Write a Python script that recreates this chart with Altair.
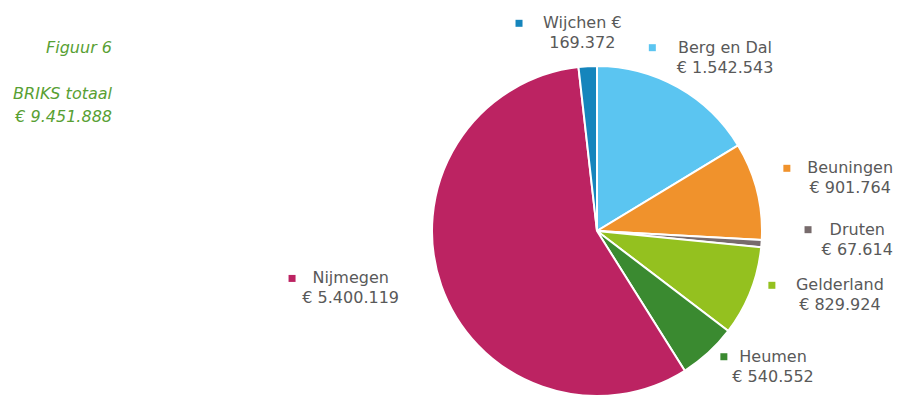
import altair as alt
import pandas as pd

# ---- data ----
names = ["Berg en Dal", "Beuningen", "Druten", "Gelderland", "Heumen", "Nijmegen", "Wijchen"]
values = [1542543, 901764, 67614, 829924, 540552, 5400119, 169372]
colors = ["#5BC5F1", "#F0922C", "#776B6C", "#94C11F", "#3A8A30", "#BC2362", "#1585BC"]
label_line1 = ["Berg en Dal", "Beuningen", "Druten", "Gelderland", "Heumen", "Nijmegen", "Wijchen €"]
label_line2 = ["€ 1.542.543", "€ 901.764", "€ 67.614", "€ 829.924", "€ 540.552", "€ 5.400.119", "169.372"]
title_lines = ["Figuur 6", "", "BRIKS totaal", "€ 9.451.888"]

# ---- layout constants ----
W, H = 893, 402
CX, CY, R = 589, 223, 165          # pie centre / radius (px)
LCY = 217                          # label ellipse centre (y)
A, B = 261, 192                    # label ellipse half-axes
CW = 9.4                           # approx char width of label font
LH = 20                            # label line height
GAP = 21                           # marker centre to first line start
FONT = "DejaVu Sans"
TITLE_X, TITLE_Y, TITLE_LH = 104, 45, 23

df = pd.DataFrame({
    "order": list(range(len(names))),
    "name": names,
    "value": values,
    "line1": label_line1,
    "label": [a + "\n" + b for a, b in zip(label_line1, label_line2)],
})

color_scale = alt.Scale(domain=names, range=colors)
base = alt.Chart(df)

pie = base.mark_arc(outerRadius=R, stroke="white", strokeWidth=2).encode(
    theta=alt.Theta("value:Q", stack=True),
    order=alt.Order("order:Q"),
    color=alt.Color("name:N", scale=color_scale, legend=None),
    x=alt.value(CX),
    y=alt.value(CY),
)

pos = base.transform_joinaggregate(
    total="sum(value)"
).transform_window(
    cum="sum(value)", sort=[alt.SortField("order")], frame=[None, 0]
).transform_calculate(
    ang="2*PI*(datum.cum - datum.value/2)/datum.total"
).transform_calculate(
    lx=f"{CX} + {A}*sin(datum.ang)",
    ly=f"{LCY} - {B}*cos(datum.ang)",
).transform_calculate(
    mx=f"datum.lx - length(datum.line1)*{CW}/2 - {GAP}",
    my=f"datum.ly - {LH}/2",
)

xs = alt.Scale(domain=[0, W], nice=False, zero=False)
ys = alt.Scale(domain=[0, H], nice=False, zero=False, reverse=True)

labels = pos.mark_text(
    align="center", baseline="middle", lineBreak="\n", lineHeight=LH,
    font=FONT, fontSize=16, color="#595959", dy=-LH / 2,
).encode(
    x=alt.X("lx:Q", scale=xs, axis=None),
    y=alt.Y("ly:Q", scale=ys, axis=None),
    text="label:N",
)

markers = pos.mark_square(size=49, opacity=1).encode(
    x=alt.X("mx:Q", scale=xs, axis=None),
    y=alt.Y("my:Q", scale=ys, axis=None),
    color=alt.Color("name:N", scale=color_scale, legend=None),
)

title_df = pd.DataFrame({"t": title_lines, "i": list(range(len(title_lines)))})
title = alt.Chart(title_df).transform_filter(
    "datum.t != ''"
).transform_calculate(
    ty=f"{TITLE_Y} + datum.i*{TITLE_LH}"
).mark_text(
    align="right", baseline="alphabetic",
    font=FONT, fontSize=16, fontStyle="italic", color="#58A033",
).encode(
    x=alt.value(TITLE_X),
    y=alt.Y("ty:Q", scale=ys, axis=None),
    text="t:N",
)

chart = alt.layer(pie, labels, markers, title).properties(
    width=W, height=H, padding=0,
    autosize=alt.AutoSizeParams(type="none"),
).configure_view(stroke=None)

chart.save("out.html", embed_options={"renderer": "svg", "actions": False})
